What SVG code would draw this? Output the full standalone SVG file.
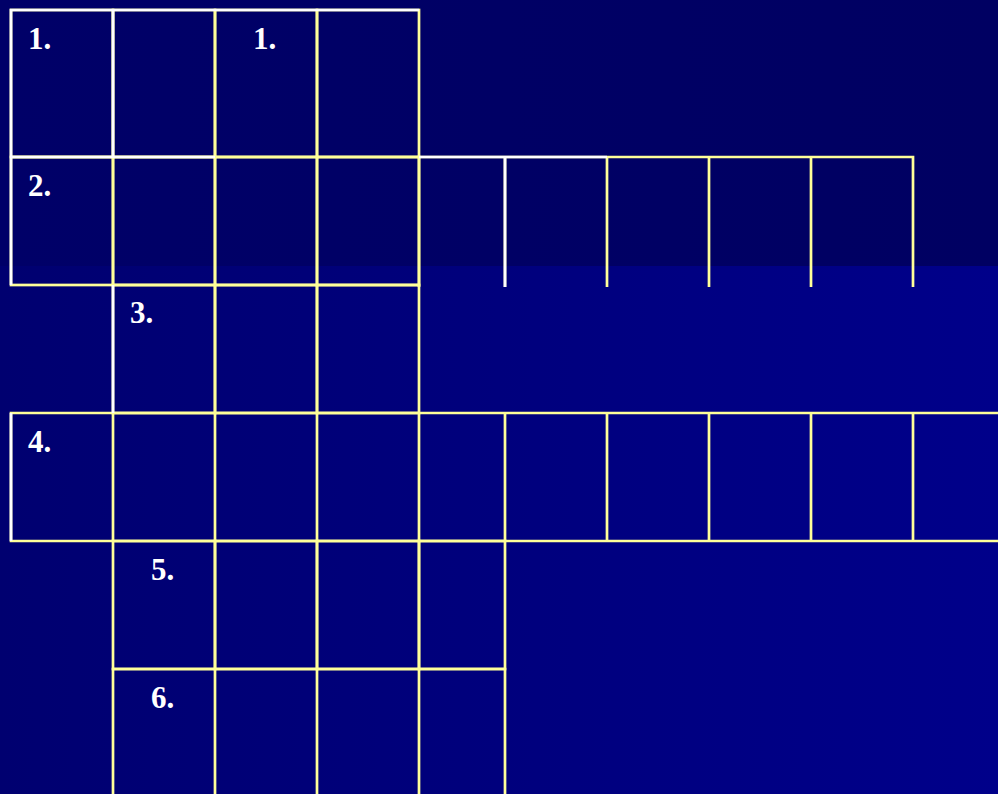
<svg xmlns="http://www.w3.org/2000/svg" width="998" height="794" viewBox="0 0 998 794">
<defs>
<linearGradient id="bgTop" x1="0" y1="0" x2="1" y2="0"><stop offset="0" stop-color="#000068"/><stop offset="1" stop-color="#000062"/></linearGradient>
<linearGradient id="bgBot" x1="0" y1="0" x2="1" y2="0"><stop offset="0" stop-color="#000070"/><stop offset="1" stop-color="#00008a"/></linearGradient>
</defs>
<style>
.y{fill:none;stroke:#ffff99;stroke-width:2.7}
.w{fill:none;stroke:#ffffff;stroke-width:2.7}
.lbl{font-family:"Liberation Serif","Times New Roman",serif;font-weight:bold;font-size:31px;fill:#ffffff}
</style>
<rect x="0" y="0" width="998" height="266" fill="url(#bgTop)"/>
<rect x="0" y="266" width="998" height="528" fill="url(#bgBot)"/>
<g id="cells">
<g id="r1"><rect class="y" x="11" y="10" width="102" height="147"/><rect class="y" x="113" y="10" width="102" height="147"/><rect class="y" x="215" y="10" width="102" height="147"/><rect class="y" x="317" y="10" width="102" height="147"/></g>
<g id="r2"><rect class="y" x="11" y="157" width="102" height="128"/><rect class="y" x="113" y="157" width="102" height="128"/><rect class="y" x="215" y="157" width="102" height="128"/><rect class="y" x="317" y="157" width="102" height="128"/>
<path class="y" d="M419,287 V157 H913 V287 M505,157 V287 M607,157 V287 M709,157 V287 M811,157 V287"/></g>
<g id="r3"><rect class="y" x="113" y="285" width="102" height="128"/><rect class="y" x="215" y="285" width="102" height="128"/><rect class="y" x="317" y="285" width="102" height="128"/></g>
<g id="r4"><path class="y" d="M1000,413 H11 V541 H1000 M113,413 V541 M215,413 V541 M317,413 V541 M419,413 V541 M505,413 V541 M607,413 V541 M709,413 V541 M811,413 V541 M913,413 V541"/></g>
<g id="r5"><rect class="y" x="113" y="541" width="102" height="128"/><rect class="y" x="215" y="541" width="102" height="128"/><rect class="y" x="317" y="541" width="102" height="128"/><rect class="y" x="419" y="541" width="86" height="128"/></g>
<g id="r6"><path class="y" d="M113,796 V669 H505 V796 M215,669 V796 M317,669 V796 M419,669 V796"/></g>
<g id="white"><path class="w" d="M11,285 V10 H419 M113,10 V157 M11,157 H215 M419,157 H607 M505,157 V287 M113,285 V413 M11,413 V541"/></g>
</g>
<g id="labels">
<text class="lbl" x="28" y="49">1.</text>
<text class="lbl" x="253" y="49">1.</text>
<text class="lbl" x="28" y="196">2.</text>
<text class="lbl" x="130" y="323">3.</text>
<text class="lbl" x="28" y="452">4.</text>
<text class="lbl" x="151" y="580">5.</text>
<text class="lbl" x="151" y="708">6.</text>
</g>
</svg>
